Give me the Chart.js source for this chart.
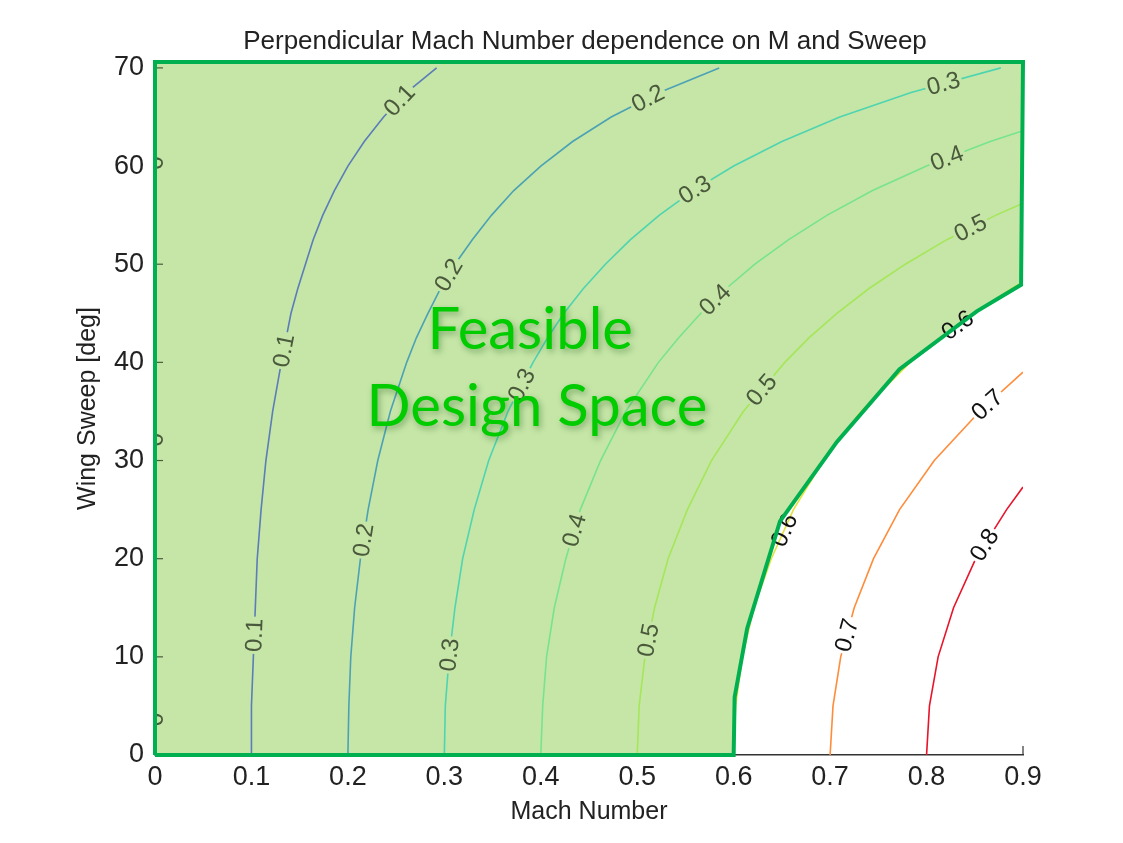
<!DOCTYPE html>
<html lang="en">
<head>
  <meta charset="UTF-8">
  <title>Perpendicular Mach Number dependence on M and Sweep</title>
  <script src="https://cdn.jsdelivr.net/npm/chart.js"></script>
  <style>
    html, body { margin: 0; padding: 0; background: #fff; }
  </style>
</head>
<body>
  <canvas id="machChart" width="1123" height="843"></canvas>

  <script>
    // contour levels of the perpendicular Mach number
    const levels = [0, 0.1, 0.2, 0.3, 0.4, 0.5, 0.6, 0.7, 0.8];
    // wing sweep rows [deg]
    const sweepDeg = [0, 5, 10, 15, 20, 25, 30, 35, 40, 42.5, 45, 47.5, 50, 52.5, 55, 57.5, 60, 62.5, 65, 67.5, 70];

    // Mach number of each contour at the sweep rows above
    const mach00 = [0, 0, 0, 0, 0, 0, 0, 0, 0, 0, 0, 0, 0, 0, 0, 0, 0, 0, 0, 0, 0];
    const mach01 = [0.100, 0.100, 0.102, 0.104, 0.106, 0.110, 0.115, 0.122, 0.131, 0.136, 0.141, 0.148, 0.156, 0.164, 0.174, 0.186, 0.200, 0.217, 0.237, 0.261, 0.292];
    const mach02 = [0.200, 0.201, 0.203, 0.207, 0.213, 0.221, 0.231, 0.244, 0.261, 0.271, 0.283, 0.296, 0.311, 0.329, 0.349, 0.372, 0.400, 0.433, 0.473, 0.523, 0.585];
    const mach03 = [0.300, 0.301, 0.305, 0.311, 0.319, 0.331, 0.346, 0.366, 0.392, 0.407, 0.424, 0.444, 0.467, 0.493, 0.523, 0.558, 0.600, 0.650, 0.710, 0.784, 0.877];
    const mach04 = [0.400, 0.402, 0.406, 0.414, 0.426, 0.441, 0.462, 0.488, 0.522, 0.543, 0.566, 0.592, 0.622, 0.657, 0.697, 0.744, 0.800, 0.866];
    const mach05 = [0.500, 0.502, 0.508, 0.518, 0.532, 0.552, 0.577, 0.610, 0.653, 0.678, 0.707, 0.740, 0.778, 0.821, 0.872];
    const mach06 = [0.600, 0.602, 0.609, 0.621, 0.639, 0.662, 0.693, 0.732, 0.783, 0.814, 0.849, 0.888];
    const mach07 = [0.700, 0.703, 0.711, 0.725, 0.745, 0.772, 0.808, 0.855];
    const mach08 = [0.800, 0.803, 0.812, 0.828, 0.851, 0.883];
    // sweep where a contour runs out through the right edge (M = 0.9)
    const edgeSweep = [null, null, null, null, 63.6, 56.2, 48.2, 39.0, 27.3];
    const machMax = 0.9;

    // feasible design space outline
    const regionMach  = [0, 0, 0.9, 0.898, 0.852, 0.772, 0.707, 0.648, 0.614, 0.601, 0.6, 0];
    const regionSweep = [0, 70.6, 70.6, 47.9, 45.2, 39.3, 31.9, 23.8, 12.9, 5.9, 0, 0];

    // axis ticks
    const machTicks = [0, 0.1, 0.2, 0.3, 0.4, 0.5, 0.6, 0.7, 0.8, 0.9];
    const sweepTicks = [0, 10, 20, 30, 40, 50, 60, 70];

    // where clabel put its labels: contour level and sweep
    const labelLevel = [0, 0, 0, 0.1, 0.1, 0.1, 0.2, 0.2, 0.2, 0.3, 0.3, 0.3, 0.3, 0.4, 0.4, 0.4, 0.5, 0.5, 0.5, 0.6, 0.6, 0.7, 0.7, 0.8];
    const labelSweep = [60.3, 32.1, 3.6, 12.2, 41.2, 66.7, 21.9, 48.9, 66.9, 10.2, 37.7, 57.6, 68.4, 22.9, 46.4, 60.8, 11.7, 37.2, 53.7, 22.9, 43.8, 12.2, 35.7, 21.4];

    const machByLevel = [mach00, mach01, mach02, mach03, mach04, mach05, mach06, mach07, mach08];
    const lineColors = ['#3a50a0', '#5b7db8', '#4ca2b4', '#4fd4b0', '#78e38e', '#a6e65a', '#e2e23c', '#ff8c3a', '#e8142a'];

    const FONT = '"Liberation Sans", Arial, Helvetica, sans-serif';

    function contourPoints(k) {
      const pts = machByLevel[k].map((m, i) => ({ x: m, y: sweepDeg[i] }));
      if (edgeSweep[k] !== null) pts.push({ x: machMax, y: edgeSweep[k] });
      return pts;
    }

    const regionPoints = regionMach.map((m, i) => ({ x: m, y: regionSweep[i] }));

    const datasets = [
      {
        role: 'border',
        data: regionPoints,
        showLine: true,
        fill: false,
        borderColor: '#00b050',
        borderWidth: 4,
        borderJoinStyle: 'miter',
        pointRadius: 0,
        clip: false,
        order: 0
      }
    ];
    levels.forEach((lev, k) => {
      datasets.push({
        role: 'contour',
        level: lev,
        data: contourPoints(k),
        showLine: true,
        fill: false,
        borderColor: lineColors[k],
        borderWidth: 1.6,
        pointRadius: 0,
        order: 5
      });
    });
    datasets.push({
      role: 'fill',
      data: regionPoints,
      showLine: true,
      fill: 'shape',
      backgroundColor: '#c5e6a7',
      borderWidth: 0,
      pointRadius: 0,
      clip: false,
      order: 20
    });

    function findOnLine(points, sw) {
      for (let i = 1; i < points.length; i++) {
        const a = points[i - 1], b = points[i];
        if (sw >= a.y && sw <= b.y) {
          const t = (sw - a.y) / (b.y - a.y);
          return { a, b, x: a.x + t * (b.x - a.x) };
        }
      }
      return null;
    }

    const decorations = {
      id: 'decorations',
      beforeDatasetDraw(chart, args) {
        if (chart.data.datasets[args.index].role !== 'border') return;
        const ctx = chart.ctx;
        const xs = chart.scales.x, ys = chart.scales.y;
        const area = chart.chartArea;

        // inward tick marks
        ctx.save();
        ctx.lineWidth = 1.2;
        ctx.strokeStyle = '#4d5c3e';
        sweepTicks.forEach(v => {
          const py = ys.getPixelForValue(v);
          ctx.beginPath();
          ctx.moveTo(area.left, py);
          ctx.lineTo(area.left + 8, py);
          ctx.stroke();
        });
        ctx.strokeStyle = '#333';
        const px9 = xs.getPixelForValue(machTicks[machTicks.length - 1]);
        ctx.beginPath();
        ctx.moveTo(px9, area.bottom);
        ctx.lineTo(px9, area.bottom - 9);
        ctx.stroke();
        ctx.restore();

        // contour labels, with the line broken underneath
        ctx.save();
        ctx.beginPath();
        ctx.rect(area.left, area.top, area.right - area.left, area.bottom - area.top);
        ctx.clip();
        ctx.font = '24px ' + FONT;
        ctx.textAlign = 'center';
        ctx.textBaseline = 'middle';
        labelLevel.forEach((lev, i) => {
          const ds = chart.data.datasets.find(d => d.role === 'contour' && d.level === lev);
          const hit = findOnLine(ds.data, labelSweep[i]);
          if (!hit) return;
          const cx = xs.getPixelForValue(hit.x);
          const cy = ys.getPixelForValue(labelSweep[i]);
          const dx = xs.getPixelForValue(hit.b.x) - xs.getPixelForValue(hit.a.x);
          const dy = ys.getPixelForValue(hit.b.y) - ys.getPixelForValue(hit.a.y);
          const ang = Math.atan2(dy, dx);
          const text = String(lev);
          const w = ctx.measureText(text).width;
          ctx.save();
          ctx.translate(cx, cy);
          ctx.rotate(ang);
          if (lev <= 0.5) {
            ctx.fillStyle = '#c5e6a7';
            ctx.fillRect(-w / 2 - 2, -10, w + 4, 20);
            ctx.fillStyle = '#4a583b';
          } else if (lev > 0.6) {
            ctx.fillStyle = '#ffffff';
            ctx.fillRect(-w / 2 - 2, -10, w + 4, 20);
            ctx.fillStyle = '#111';
          } else {
            ctx.fillStyle = '#111';
          }
          ctx.fillText(text, 0, 1);
          ctx.restore();
        });
        ctx.restore();
      },
      afterDraw(chart) {
        const ctx = chart.ctx;
        const xs = chart.scales.x, ys = chart.scales.y;
        const area = chart.chartArea;

        ctx.save();
        ctx.fillStyle = '#222';
        ctx.font = '26px ' + FONT;
        ctx.textAlign = 'center';
        ctx.textBaseline = 'middle';
        ctx.fillText('Perpendicular Mach Number dependence on M and Sweep', (area.left + area.right) / 2 - 4, 42);

        ctx.font = '58px Lato, "Open Sans", sans-serif';
        ctx.fillStyle = '#00cc00';
        ctx.shadowColor = 'rgba(0, 70, 0, 0.35)';
        ctx.shadowBlur = 6;
        ctx.shadowOffsetX = 2;
        ctx.shadowOffsetY = 3;
        ctx.fillText('Feasible', xs.getPixelForValue(0.389), ys.getPixelForValue(43.3));
        ctx.fillText('Design Space', xs.getPixelForValue(0.396), ys.getPixelForValue(35.4));
        ctx.restore();
      }
    };

    new Chart(document.getElementById('machChart').getContext('2d'), {
      type: 'scatter',
      data: { datasets: datasets },
      options: {
        responsive: false,
        animation: false,
        layout: { padding: { top: 62, right: 100, bottom: 0, left: 0 } },
        plugins: {
          legend: { display: false },
          tooltip: { enabled: false },
          title: { display: false }
        },
        scales: {
          x: {
            type: 'linear',
            min: 0,
            max: 0.9,
            afterBuildTicks: s => { s.ticks = machTicks.map(v => ({ value: v })); },
            afterFit: s => { s.height = 88; },
            grid: { display: false, drawTicks: false },
            border: { display: true, color: '#333', width: 1.5 },
            ticks: { padding: 6, color: '#222', font: { family: FONT, size: 27 }, callback: v => String(v) },
            title: {
              display: true,
              text: 'Mach Number',
              color: '#222',
              font: { family: FONT, size: 25 },
              padding: { top: 0, bottom: 16 }
            }
          },
          y: {
            type: 'linear',
            min: 0,
            max: 70.6,
            afterBuildTicks: s => { s.ticks = sweepTicks.map(v => ({ value: v })); },
            afterFit: s => { s.width = 155; },
            grid: { display: false, drawTicks: false },
            border: { display: false },
            ticks: { padding: 11, color: '#222', font: { family: FONT, size: 27 }, callback: v => String(v) },
            title: {
              display: true,
              text: 'Wing Sweep [deg]',
              color: '#222',
              font: { family: FONT, size: 25 },
              padding: { top: 73, bottom: 0 }
            }
          }
        }
      },
      plugins: [decorations]
    });
  </script>
</body>
</html>
